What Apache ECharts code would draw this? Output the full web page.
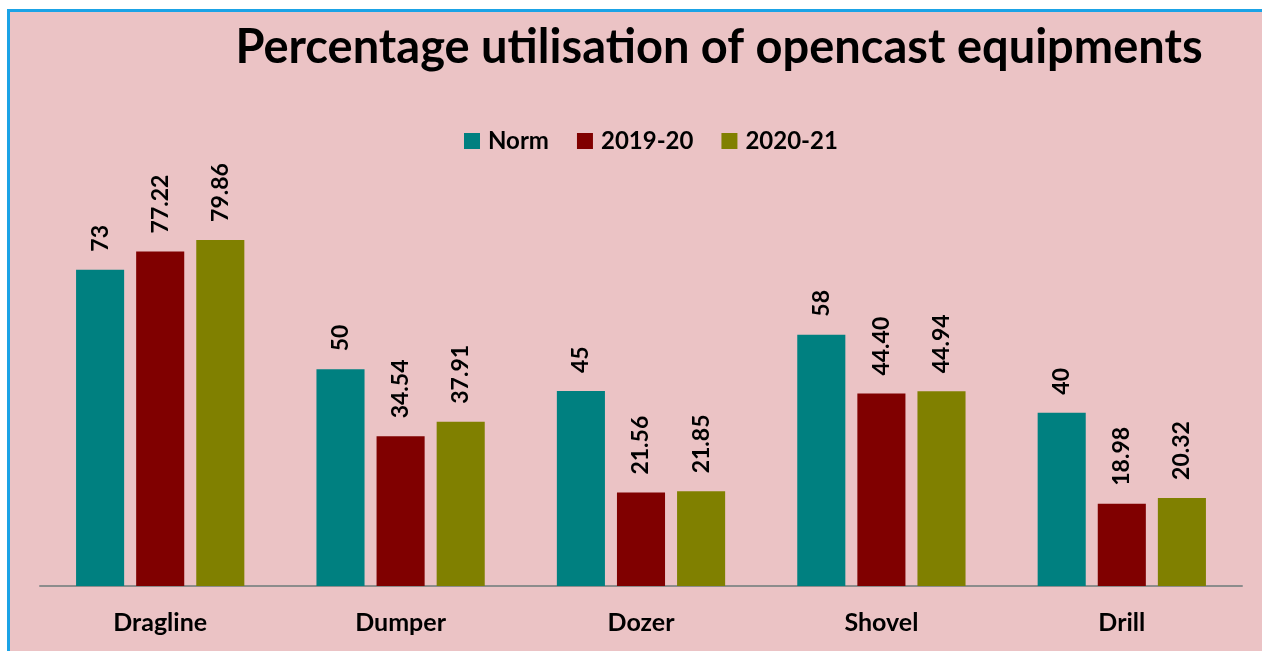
<!DOCTYPE html>
<html>
<head>
<meta charset="utf-8">
<script src="https://cdn.jsdelivr.net/npm/echarts@6/dist/echarts.min.js"></script>
<style>
    html, body { margin: 0; padding: 0; background: #ffffff; }
    #frame {
        position: absolute; left: 7px; top: 9px; width: 1255px; height: 642px;
        background: #ebc3c5;
        border-left: 3px solid #1ba3e6; border-top: 3px solid #1ba3e6;
        box-sizing: border-box;
    }
    #chart { position: absolute; left: 0; top: 0; width: 1262px; height: 651px; }
</style>
</head>
<body>
<div id="frame"></div>
<div id="chart"></div>
<script>
    var categories = ['Dragline', 'Dumper', 'Dozer', 'Shovel', 'Drill'];
    var normValues = [73, 50, 45, 58, 40];
    var values1920 = [77.22, 34.54, 21.56, 44.40, 18.98];
    var values2021 = [79.86, 37.91, 21.85, 44.94, 20.32];
    var normLabels = ['73', '50', '45', '58', '40'];
    var labels1920 = ['77.22', '34.54', '21.56', '44.40', '18.98'];
    var labels2021 = ['79.86', '37.91', '21.85', '44.94', '20.32'];

    var font = 'Lato, "Open Sans", sans-serif';

    function makeSeries(name, values, labels, color) {
        return {
            name: name,
            type: 'bar',
            data: values,
            barWidth: '20%',
            barGap: '25%',
            itemStyle: { color: color },
            label: {
                show: true,
                position: 'top',
                distance: 18,
                rotate: 90,
                align: 'left',
                verticalAlign: 'middle',
                color: '#000',
                fontFamily: font,
                fontWeight: 'bold',
                fontSize: 23,
                formatter: function (p) { return labels[p.dataIndex]; }
            }
        };
    }

    var myChart = echarts.init(document.getElementById('chart'));

    var option = {
        backgroundColor: 'transparent',
        animation: false,
        title: {
            text: 'Percentage utilisation of opencast equipments',
            left: 714,
            top: 19,
            textAlign: 'center',
            textStyle: { fontFamily: font, fontWeight: 'bold', fontSize: 47, color: '#000' }
        },
        legend: {
            data: ['Norm', '2019-20', '2020-21'],
            left: 459,
            top: 124,
            icon: 'rect',
            itemWidth: 16,
            itemHeight: 16,
            itemGap: 28,
            textStyle: { fontFamily: font, fontWeight: 'bold', fontSize: 24, color: '#000', padding: [0, 0, 0, 3] }
        },
        grid: { left: 40, right: 20, top: 196, bottom: 65 },
        xAxis: {
            type: 'category',
            data: categories,
            axisLine: { lineStyle: { color: '#8c8c8c', width: 2 } },
            axisTick: { show: false },
            axisLabel: { margin: 24, color: '#000', fontFamily: font, fontWeight: 'bold', fontSize: 25 }
        },
        yAxis: {
            type: 'value',
            min: 0,
            max: 90,
            show: false,
            splitLine: { show: false }
        },
        series: [
            makeSeries('Norm', normValues, normLabels, '#008080'),
            makeSeries('2019-20', values1920, labels1920, '#800000'),
            makeSeries('2020-21', values2021, labels2021, '#808000')
        ]
    };

    myChart.setOption(option);
</script>
</body>
</html>
